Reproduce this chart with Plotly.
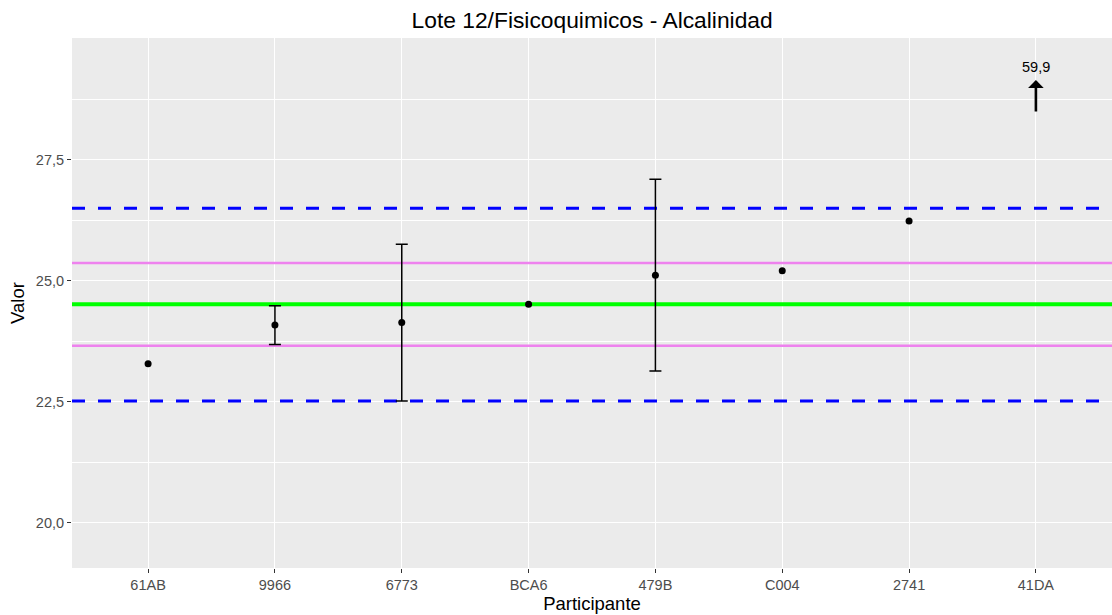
import plotly.graph_objects as go

# ---- data ----
participants = ["61AB", "9966", "6773", "BCA6", "479B", "C004", "2741", "41DA"]
values = [23.29, 24.09, 24.14, 24.52, 25.12, 25.21, 26.24, None]
uncert = [None, 0.40, 1.62, None, 1.98, None, None, None]
assigned_value = 24.52
inner_limits = [23.66, 25.37]
outer_limits = [22.52, 26.50]
outlier_label = "59,9"
outlier_index = 7
y_ticks = [20.0, 22.5, 25.0, 27.5]
y_ticklabels = ["20,0", "22,5", "25,0", "27,5"]
y_range = [19.07, 30.02]
arrow_y = [28.47, 29.15]
label_y = 29.43

x_idx = list(range(len(participants)))
x_range = [-0.6, len(participants) - 0.4]

fig = go.Figure()

# reference lines (as traces spanning the x range, drawn above the grid)
def hline(yv, color, width, dash="solid"):
    fig.add_trace(go.Scatter(x=x_range, y=[yv, yv], mode="lines",
                             line=dict(color=color, width=width, dash=dash),
                             showlegend=False, hoverinfo="skip", cliponaxis=True))

for yv in outer_limits:
    hline(yv, "#0000FF", 3, "13px,13px")
for yv in inner_limits:
    hline(yv, "#EE82EE", 2.5)
hline(assigned_value, "#00FF00", 4)

# error bars only where uncertainty present
ex, ey, ee = [], [], []
for i, (v, u) in enumerate(zip(values, uncert)):
    if v is not None and u is not None:
        ex.append(i); ey.append(v); ee.append(u)
fig.add_trace(go.Scatter(
    x=ex, y=ey, mode="markers", marker=dict(size=0.1, color="black", opacity=0),
    error_y=dict(type="data", array=ee, visible=True, color="black", thickness=1.5, width=6),
    showlegend=False, hoverinfo="skip"))

# points
px = [i for i, v in zip(x_idx, values) if v is not None]
py = [v for v in values if v is not None]
fig.add_trace(go.Scatter(x=px, y=py, mode="markers",
                         marker=dict(size=7, color="black"), showlegend=False))

# outlier arrow and label
fig.add_annotation(x=outlier_index, y=arrow_y[1], ax=outlier_index, ay=arrow_y[0],
                   xref="x", yref="y", axref="x", ayref="y", text="",
                   showarrow=True, arrowhead=1, arrowsize=1.0, arrowwidth=2.6, arrowcolor="black")
fig.add_annotation(x=outlier_index, y=label_y, xref="x", yref="y", text=outlier_label,
                   showarrow=False, font=dict(size=14.5, color="black"))

fig.update_layout(
    width=1112, height=615,
    margin=dict(l=72, r=0, t=38, b=47),
    paper_bgcolor="white", plot_bgcolor="#EBEBEB",
    font=dict(family="Liberation Sans, Arial, sans-serif", color="black"),
    title=dict(text="Lote 12/Fisicoquimicos - Alcalinidad", x=0.5325, xanchor="center",
               y=0.967, yanchor="middle", font=dict(size=22.8, color="black")),
    showlegend=False,
)
fig.update_xaxes(
    range=x_range, tickvals=x_idx, ticktext=participants,
    showgrid=True, gridcolor="white", gridwidth=1.2, zeroline=False,
    ticks="outside", ticklen=4, tickcolor="#333333", tickwidth=1,
    tickfont=dict(size=14.5, color="#4D4D4D"),
    title=dict(text="Participante", font=dict(size=18.5, color="black"), standoff=2),
    showline=False, automargin=False,
)
fig.update_yaxes(
    range=y_range, tickvals=y_ticks, ticktext=y_ticklabels,
    showgrid=True, gridcolor="white", gridwidth=1.2, zeroline=False,
    minor=dict(tick0=21.25, dtick=2.5, showgrid=True, gridcolor="white", gridwidth=0.6, ticks=""),
    ticks="outside", ticklen=4, tickcolor="#333333", tickwidth=1,
    tickfont=dict(size=14.5, color="#4D4D4D"),
    title=dict(text="Valor", font=dict(size=18.5, color="black"), standoff=6),
    showline=False, automargin=False,
)

fig.write_html("out.html", config={"displayModeBar": False},
               post_script="document.body.style.margin='0';")
